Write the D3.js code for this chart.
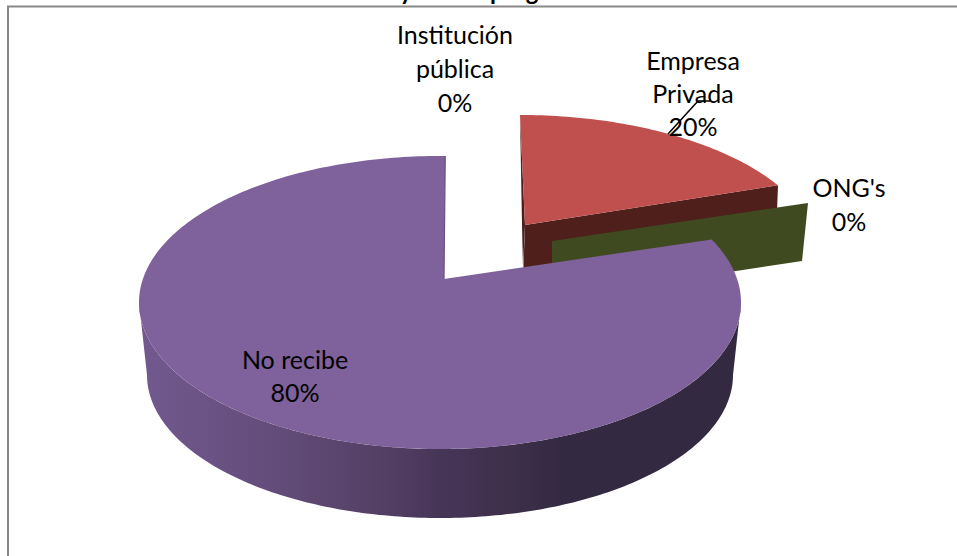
<!DOCTYPE html>
<html>
<head>
<meta charset="utf-8">
<script src="https://cdn.jsdelivr.net/npm/d3@7"></script>
<style>
  html, body { margin: 0; padding: 0; background: #fff; overflow: hidden; }
  text { font-family: Lato, "Open Sans", sans-serif; fill: #000; }
</style>
</head>
<body>
<svg id="chart" width="957" height="556"></svg>
<script>
// data, clockwise from 12 o'clock
const categories = ["Empresa Privada", "ONG's", "No recibe", "Institución pública"];
const values = [20, 0, 80, 0];
const labelLines = [["Empresa", "Privada"], ["ONG's"], ["No recibe"], ["Institución", "pública"]];
const titleText = "Ayuda de programa";

const colors = {top: '#7f619b', red: '#bf504d', redDark: '#4f1f1c', green: '#3f4a21'};
const rad = d => d * Math.PI / 180;

const svg = d3.select('#chart');
const total = d3.sum(values);
const pct = d3.format('.0%');
const arcs = d3.pie().sort(null).value(d => d)(values);

// the 3D view squeezes angles, so each exploded slice gets its own angle scale
function rimScale(arc, fromDeg, toDeg) {
  return d3.scaleLinear().domain([arc.startAngle, arc.endAngle]).range([rad(fromDeg), rad(toDeg)]);
}

function ellipsePoint(e, t) {
  return [e.cx + e.rx * Math.sin(t), e.cy - e.ry * Math.cos(t)];
}

function rimPoints(e, from, to) {
  const n = Math.ceil(Math.abs(to - from) / rad(1));
  return d3.range(n + 1).map(i => ellipsePoint(e, from + (to - from) * i / n));
}

const line = d3.line();
const closed = pts => line(pts) + 'Z';

// Side gradient of the big slice
const grad = svg.append('defs').append('linearGradient')
  .attr('id', 'side')
  .attr('gradientUnits', 'userSpaceOnUse')
  .attr('x1', 139).attr('x2', 741).attr('y1', 0).attr('y2', 0);
grad.selectAll('stop')
  .data([[0, '#72598f'], [0.2, '#654e7d'], [0.4, '#544065'], [0.5, '#473558'], [0.62, '#3e2f4b'], [0.7, '#332a41'], [1, '#332a41']])
  .enter()
  .append('stop')
  .attr('offset', d => d[0])
  .attr('stop-color', d => d[1]);

// Title sits mostly off the top of the picture
svg.append('text')
  .attr('x', 488)
  .attr('y', 0)
  .attr('text-anchor', 'middle')
  .style('font-size', '24px')
  .style('font-weight', 700)
  .text(titleText);

// Frame, only left and top survive the crop
svg.append('path')
  .attr('d', 'M8,556V6.5H957')
  .attr('fill', 'none')
  .attr('stroke', '#888')
  .attr('stroke-width', 2);

// Empresa Privada
const redArc = arcs[categories.indexOf('Empresa Privada')];
const redTop = {cx: 520, cy: 260, rx: 301, ry: 145};
const redApex = [525, 225];
const redScale = rimScale(redArc, 0, 59);
const redRim = rimPoints(redTop, redScale(redArc.startAngle), redScale(redArc.endAngle));
const redEnd = redRim[redRim.length - 1];

svg.append('path')
  .attr('d', closed([redApex, redEnd, [redEnd[0] - 2, redEnd[1] + 52], [523, 280]]))
  .attr('fill', colors.redDark);
svg.append('path')
  .attr('d', closed([redRim[0], redApex, [523, 268], [522, 225]]))
  .attr('fill', colors.redDark);
svg.append('path')
  .attr('d', closed([redApex].concat(redRim)))
  .attr('fill', colors.red);

// ONG's is a 0% slice, only its cut face shows
const ongRim = [808, 203];
const ongApex = [552, 241];
const ongDepth = 58;
svg.append('path')
  .attr('d', closed([ongApex, ongRim, [ongRim[0] - 6, ongRim[1] + ongDepth], [ongApex[0], ongApex[1] + ongDepth]]))
  .attr('fill', colors.green);

// No recibe
const bigArc = arcs[categories.indexOf('No recibe')];
const bigTop = {cx: 440, cy: 302.5, rx: 301, ry: 146.5};
const bigBottom = {cx: 440, cy: 375, rx: 293, ry: 143};
const bigApex = [444, 279];
const bigScale = rimScale(bigArc, 64.5, 361);

svg.append('path')
  .attr('d', closed(rimPoints(bigTop, rad(90), rad(270)).concat(rimPoints(bigBottom, rad(270), rad(90)))))
  .attr('fill', 'url(#side)');
svg.append('path')
  .attr('d', closed([bigApex].concat(rimPoints(bigTop, bigScale(bigArc.startAngle), bigScale(bigArc.endAngle)))))
  .attr('fill', colors.top);
svg.append('path')
  .attr('d', line([ellipsePoint(bigTop, bigScale(bigArc.endAngle)), bigApex]))
  .attr('stroke', '#6a5086')
  .attr('stroke-width', 1.2)
  .attr('fill', 'none');

// Data labels
const labelPos = [[693, 70], [849, 197], [295, 369], [455, 44]];
const lineGap = [33, 34, 33, 34];

categories.forEach((c, i) => {
  const rows = labelLines[i].concat(pct(values[i] / total));
  svg.append('text')
    .attr('text-anchor', 'middle')
    .style('font-size', '25px')
    .selectAll('tspan')
    .data(rows)
    .enter()
    .append('tspan')
    .attr('x', labelPos[i][0])
    .attr('y', (d, k) => labelPos[i][1] + k * lineGap[i])
    .text(d => d);
});

// Leader line for Empresa Privada
svg.append('path')
  .attr('d', line([[668, 134], [698, 101], [710, 101]]))
  .attr('fill', 'none')
  .attr('stroke', '#000')
  .attr('stroke-width', 1.5);
</script>
</body>
</html>
